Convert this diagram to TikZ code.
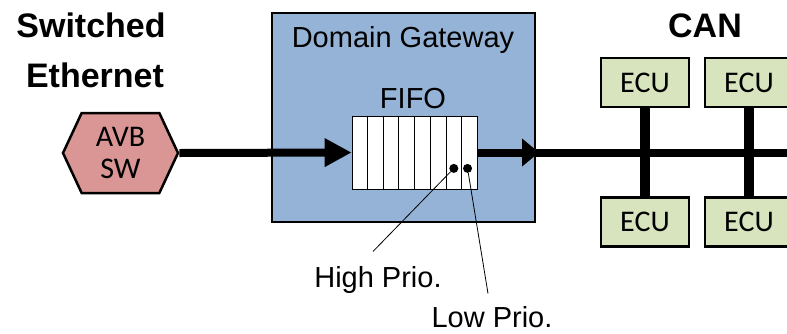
\documentclass[tikz,border=0pt]{standalone}
\usepackage{fontspec}
\setmainfont{Liberation Sans}
\newfontfamily\calib{Carlito}
\usetikzlibrary{arrows.meta,shapes.symbols,calc}
\definecolor{swpink}{RGB}{217,150,148}
\definecolor{gwblue}{RGB}{149,179,215}
\definecolor{ecugreen}{RGB}{215,228,189}
\tikzset{
  ecu/.style={draw, line width=2.5pt, fill=ecugreen, minimum width=88pt, minimum height=49pt, inner sep=0pt, font=\calib\fontsize{30}{32}\selectfont},
  bus/.style={line width=8pt},
  flow/.style={line width=8pt, -{Triangle[length=27pt,width=27pt]}},
  lbl/.style={anchor=base, font=\fontsize{29}{34}\selectfont},
  hdr/.style={anchor=base, font=\bfseries\fontsize{34}{40}\selectfont},
  dot/.style={circle, fill, inner sep=0pt, minimum size=9pt}
}

\begin{document}
\begin{tikzpicture}[x=1pt,y=-1pt]
\useasboundingbox (0,0) rectangle (787,333);
\node[draw, line width=2.5pt, fill=gwblue, minimum width=263pt, minimum height=209pt] (gw) at (403.5,117.5) {};
\node[lbl] (gwname) at (403,47) {Domain Gateway};
\node[lbl] (fifoname) at (413,108) {FIFO};
\node[draw, thick, fill=white, minimum width=125pt, minimum height=73pt, inner sep=0pt] (fifo) at (414.5,152.5) {};
\foreach \i in {1,...,7}
  \draw[thick] ($(fifo.north west)!\i/8!(fifo.north east)$) -- ($(fifo.south west)!\i/8!(fifo.south east)$);
\node[dot] (hi) at ($(fifo.south west)!13/16!(fifo.south east)+(0,-21)$) {};
\node[dot] (lo) at ($(fifo.south west)!15/16!(fifo.south east)+(-2,-21)$) {};

\node[shape=signal, signal to=west and east, signal pointer angle=130, draw, line width=2.5pt, fill=swpink,
  minimum width=115pt, minimum height=80pt, inner sep=0pt, align=center, font=\calib\fontsize{30}{32}\selectfont] (sw) at (120.5,153) {AVB\\SW};
\node[hdr] (sweth) at (91,37) {Switched};
\node[hdr] (eth) at (95,87) {Ethernet};
\node[hdr] (can) at (705,37) {CAN};

\draw[flow] (sw.east) -- (fifo.west);
\coordinate (canin) at (539,152.5); \coordinate (busend) at (792,152.5);
\draw[bus] (fifo.east -| gw.east) -- (busend);
\draw[line width=8pt, -{Triangle[length=17pt,width=27pt]}] (fifo.east) -- (canin);

\node[ecu] (ecua) at (645,82.5) {ECU};
\node[ecu] (ecub) at (749,82.5) {ECU};
\node[ecu] (ecuc) at (645,222) {ECU};
\node[ecu] (ecud) at (749,222) {ECU};
\draw[line width=10pt] (ecua) -- (ecuc);
\draw[line width=10pt] (ecub) -- (ecud);

\node[lbl] (hilbl) at (378,287) {High Prio.};
\node[lbl] (lolbl) at (492,327) {Low Prio.};
\draw[thick] (hi) -- ($(hilbl.north)+(-5,-11)$);
\draw[thick] (lo) -- ($(lolbl.north)+(-4,-9)$);
\end{tikzpicture}
\end{document}
